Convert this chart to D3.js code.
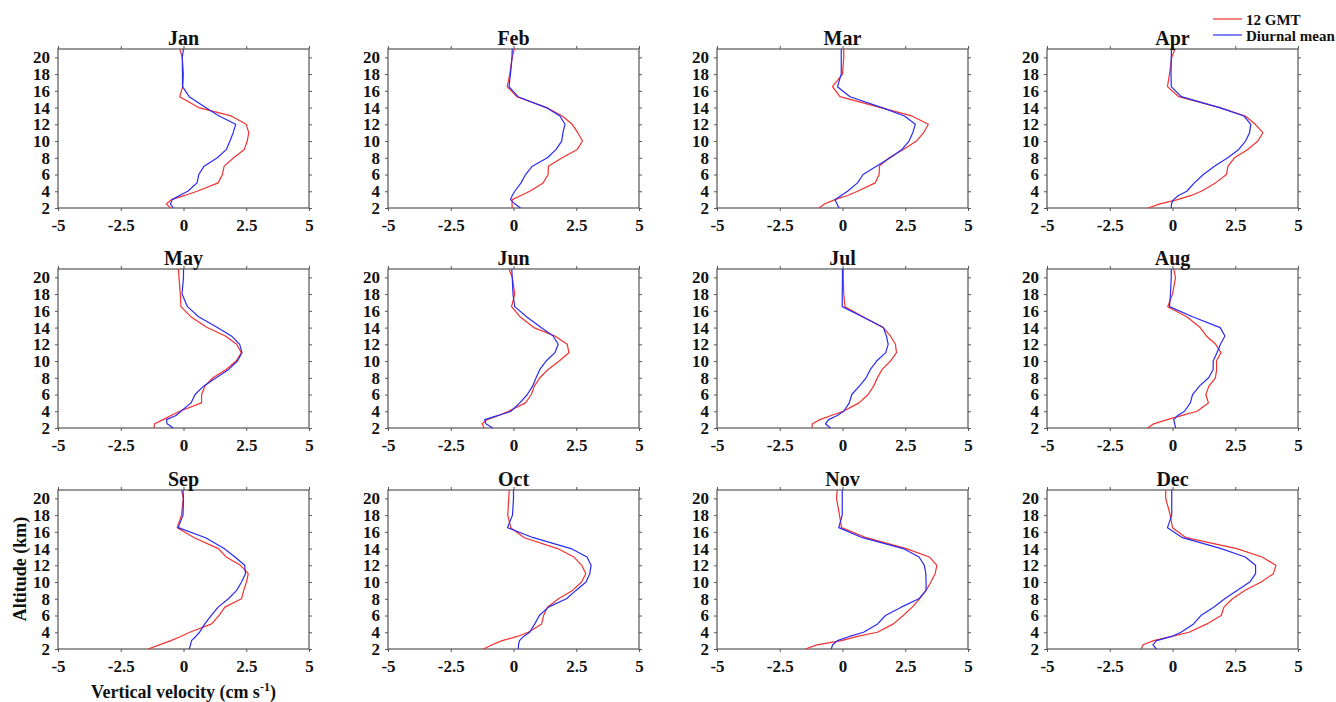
<!DOCTYPE html>
<html><head><meta charset="utf-8">
<script src="https://cdn.jsdelivr.net/npm/d3@7"></script>
<style>
body{margin:0;background:#fff}
svg{display:block;font-family:"Liberation Serif","Times New Roman",serif;font-weight:bold}
</style>
</head><body><svg id="c" width="1336" height="702"></svg>
<script>
const months = ["Jan","Feb","Mar","Apr","May","Jun","Jul","Aug","Sep","Oct","Nov","Dec"];
const altitudes = [2,2.5,3,3.5,4,5,6,7,8,9,10,11,12,13,14,15.3,16.5,18,20,21];
const xTicks = [-5,-2.5,0,2.5,5];
const xTickLabels = ["-5","-2.5","0","2.5","5"];
const yTicks = [2,4,6,8,10,12,14,16,18,20];
const seriesNames = ["12 GMT","Diurnal mean"];

const jan12   = [-0.52,-0.68,-0.48,0.05,0.54,1.38,1.55,1.62,2.0,2.42,2.54,2.6,2.5,1.9,0.6,-0.15,-0.03,0.0,-0.05,-0.15];
const janMean = [-0.41,-0.52,-0.45,-0.16,0.17,0.54,0.61,0.82,1.35,1.71,1.85,1.98,2.08,1.42,0.88,0.23,-0.04,-0.04,-0.05,0.0];
const feb12   = [-0.05,-0.06,-0.05,0.3,0.65,1.18,1.38,1.39,1.94,2.54,2.75,2.56,2.34,1.94,1.32,0.13,-0.25,-0.15,-0.05,0.03];
const febMean = [0.28,0.05,-0.12,-0.05,0.05,0.3,0.48,0.75,1.35,1.7,1.92,1.97,2.05,1.85,1.3,0.18,-0.18,-0.12,-0.06,-0.05];
const mar12   = [-0.94,-0.7,-0.3,0.2,0.6,1.3,1.46,1.47,1.86,2.42,2.95,3.23,3.42,2.76,1.52,-0.1,-0.4,0.0,0.05,0.05];
const marMean = [-0.14,-0.22,-0.3,-0.05,0.2,0.6,0.82,1.35,1.9,2.37,2.65,2.8,2.9,2.47,1.57,0.3,-0.2,-0.05,-0.05,-0.05];
const apr12   = [-0.97,-0.5,0.2,0.75,1.15,1.71,2.15,2.21,2.47,3.0,3.4,3.6,3.3,2.9,1.89,0.25,-0.2,-0.12,-0.03,0.1];
const aprMean = [-0.05,-0.04,0.04,0.24,0.57,0.87,1.23,1.67,2.2,2.64,2.91,3.07,3.12,2.84,1.87,0.35,-0.05,-0.06,-0.05,-0.04];
const may12   = [-1.18,-1.15,-0.81,-0.5,-0.15,0.72,0.72,0.85,1.17,1.7,2.1,2.3,2.12,1.67,0.94,0.29,-0.1,-0.13,-0.18,-0.2];
const mayMean = [-0.41,-0.65,-0.68,-0.3,-0.1,0.3,0.46,0.8,1.3,1.8,2.15,2.33,2.24,1.91,1.35,0.6,0.16,-0.06,0,0];
const jun12   = [-1.17,-1.25,-1.05,-0.6,-0.2,0.48,0.71,0.83,1.05,1.38,1.82,2.21,2.14,1.65,0.81,0.26,-0.08,0.05,-0.05,-0.18];
const junMean = [-0.83,-1.1,-1.15,-0.6,-0.1,0.25,0.55,0.76,0.9,1.05,1.3,1.65,1.78,1.58,1.1,0.52,0.05,-0.02,-0.05,-0.07];
const jul12   = [-1.22,-1.2,-0.9,-0.45,0.03,0.66,1.02,1.24,1.39,1.58,1.91,2.15,2.11,1.91,1.62,0.82,0.1,0.05,0.03,0.03];
const julMean = [-0.48,-0.68,-0.55,-0.21,0.05,0.27,0.37,0.67,0.94,1.11,1.36,1.72,1.82,1.75,1.63,0.79,-0.01,-0.01,0,0];
const aug12   = [-0.99,-0.75,-0.21,0.39,0.98,1.43,1.33,1.45,1.71,1.76,1.75,1.93,1.72,1.35,1.1,0.57,-0.19,0.0,0.12,0.05];
const augMean = [0.12,0.09,0.05,0.21,0.48,0.71,0.8,1.07,1.44,1.62,1.62,1.77,1.91,2.09,1.9,0.8,-0.12,-0.08,-0.05,-0.05];
const sep12   = [-1.41,-0.96,-0.5,-0.11,0.25,1.12,1.41,1.65,2.31,2.4,2.51,2.58,2.27,1.7,1.39,0.43,-0.25,-0.08,-0.01,-0.08];
const sepMean = [0.23,0.28,0.32,0.49,0.64,0.85,1.1,1.38,1.79,2.12,2.31,2.47,2.44,2.05,1.62,0.88,-0.21,-0.02,0,-0.02];
const oct12   = [-1.2,-0.85,-0.45,0.15,0.59,1.12,1.2,1.35,1.79,2.35,2.71,2.88,2.72,2.4,1.76,0.43,-0.11,-0.23,-0.19,-0.17];
const octMean = [0.19,0.2,0.24,0.4,0.64,0.85,1.03,1.39,2.11,2.49,2.89,3.04,3.09,2.93,2.29,0.79,-0.24,-0.04,0,0];
const nov12   = [-1.48,-1.02,-0.04,0.59,1.39,2.03,2.42,2.78,3.07,3.33,3.52,3.69,3.76,3.46,2.54,0.95,-0.04,-0.12,-0.24,-0.21];
const novMean = [-0.45,-0.39,-0.2,0.28,0.84,1.4,1.71,2.34,3.04,3.33,3.33,3.32,3.26,3.05,2.42,0.8,-0.15,-0.01,-0.01,-0.01];
const dec12   = [-1.25,-1.17,-0.75,-0.03,0.66,1.37,1.94,2.05,2.39,2.88,3.53,4.02,4.12,3.57,2.56,0.54,0.0,-0.09,-0.27,-0.27];
const decMean = [-0.64,-0.78,-0.64,-0.03,0.34,0.84,1.13,1.64,2.08,2.57,3.08,3.31,3.31,2.9,1.94,0.4,-0.2,-0.03,-0.03,-0.03];

const gmt12Series = [jan12,feb12,mar12,apr12,may12,jun12,jul12,aug12,sep12,oct12,nov12,dec12];
const meanSeries  = [janMean,febMean,marMean,aprMean,mayMean,junMean,julMean,augMean,sepMean,octMean,novMean,decMean];

const RED = "#f23030", BLUE = "#2a2af2", FRAME = "#555";
const colLeft = [58, 388, 717, 1047], rowTop = [49, 269, 490];
const W = 251, H = 159;

const svg = d3.select("#c");
const x = d3.scaleLinear().domain([-5, 5]).range([0, W]);
const y = d3.scaleLinear().domain([2, 21]).range([H, 0]);

months.forEach((m, i) => {
  const col = i % 4, row = Math.floor(i / 4);
  const g = svg.append("g").attr("transform", `translate(${colLeft[col]},${rowTop[row]})`);

  const styleAxis = a => {
    a.select(".domain").remove();
    a.selectAll("line").attr("stroke", FRAME);
    a.selectAll("text").attr("fill", "#111").style("font-size", "17px").style("font-weight", "bold")
      .style("font-family", '"Liberation Serif","Times New Roman",serif');
  };
  g.append("g").attr("transform", `translate(0,${H})`)
    .call(d3.axisBottom(x).tickValues(xTicks).tickFormat((d, j) => xTickLabels[j]).tickSize(3).tickPadding(8))
    .call(styleAxis);
  g.append("g")
    .call(d3.axisTop(x).tickValues(xTicks).tickFormat("").tickSize(3))
    .call(styleAxis);
  g.append("g")
    .call(d3.axisLeft(y).tickValues(yTicks).tickSize(3).tickPadding(5))
    .call(styleAxis);
  g.append("g").attr("transform", `translate(${W},0)`)
    .call(d3.axisRight(y).tickValues(yTicks).tickFormat("").tickSize(3))
    .call(styleAxis);

  g.append("rect").attr("width", W).attr("height", H)
    .attr("fill", "none").attr("stroke", FRAME).attr("stroke-width", 1.2);

  const line = d3.line().x(d => x(d[0])).y(d => y(d[1]));
  [[gmt12Series[i], RED], [meanSeries[i], BLUE]].forEach(([vals, c]) => {
    g.append("path").datum(vals.map((v, k) => [v, altitudes[k]]))
      .attr("d", line).attr("fill", "none").attr("stroke", c).attr("stroke-width", 1.2)
      .attr("stroke-linejoin", "round");
  });

  g.append("text").attr("x", W / 2).attr("y", -4).attr("text-anchor", "middle")
    .style("font-size", "20px").attr("fill", "#111").text(m);
});

// axis labels
svg.append("text").attr("transform", "translate(26,569) rotate(-90)").attr("text-anchor", "middle")
  .style("font-size", "18px").attr("fill", "#111").text("Altitude (km)");
const xl = svg.append("text").attr("x", 183.5).attr("y", 698).attr("text-anchor", "middle")
  .style("font-size", "18px").attr("fill", "#111");
xl.append("tspan").text("Vertical velocity (cm s");
xl.append("tspan").attr("dy", -7).style("font-size", "12px").text("-1");
xl.append("tspan").attr("dy", 7).text(")");

// legend
const legend = svg.append("g");
[[seriesNames[0], RED, 19], [seriesNames[1], BLUE, 35]].forEach(([t, c, yy]) => {
  legend.append("line").attr("x1", 1213).attr("x2", 1242).attr("y1", yy).attr("y2", yy)
    .attr("stroke", c).attr("stroke-width", 1.2);
  legend.append("text").attr("x", 1246).attr("y", yy + 6).style("font-size", "15px")
    .attr("fill", "#111").text(t);
});
</script>
</body></html>
